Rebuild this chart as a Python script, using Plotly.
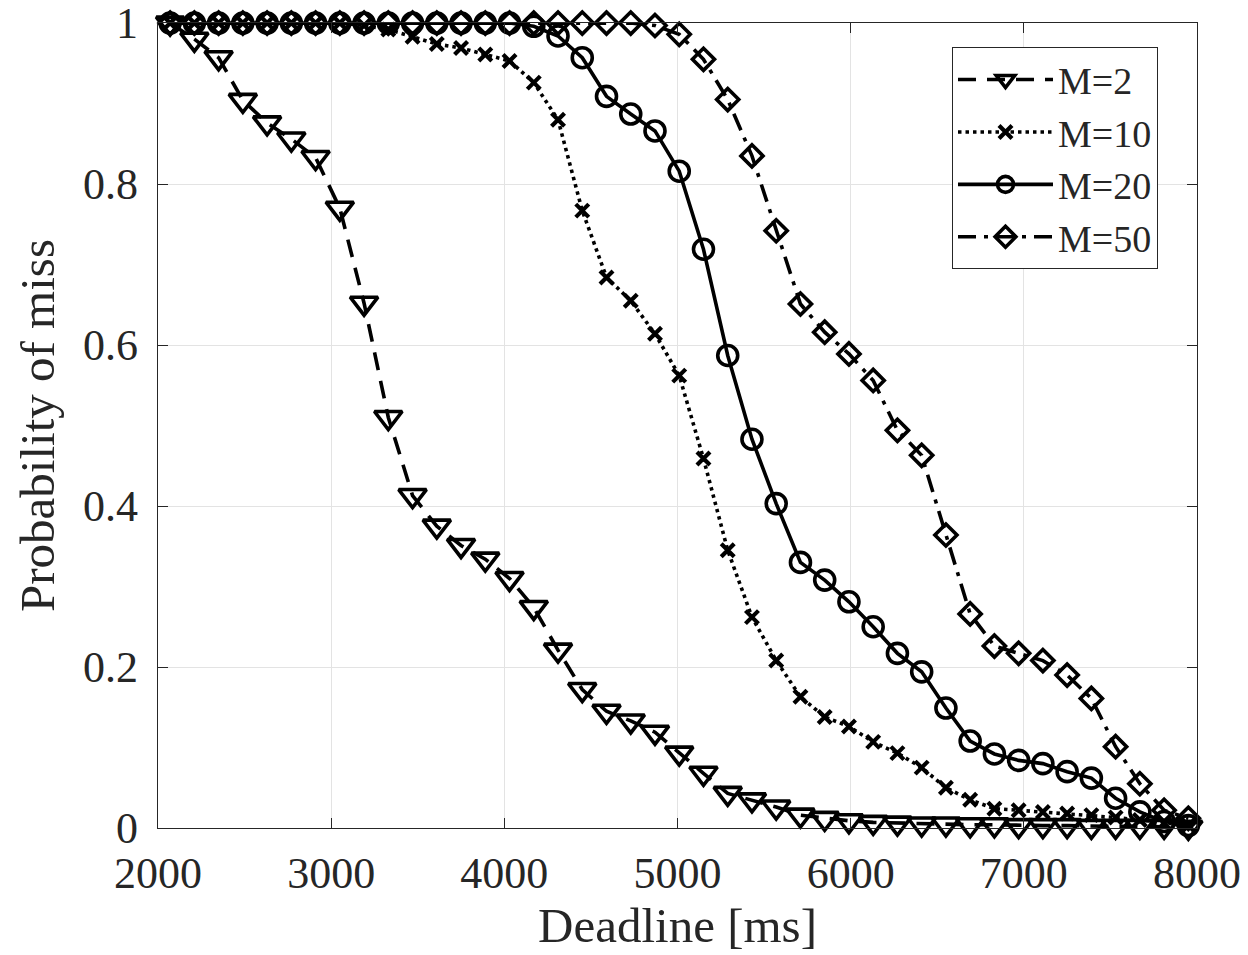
import plotly.graph_objects as go

# Deadline values (ms) at which the miss probability was evaluated
deadlines = [2070, 2210, 2350, 2490, 2630, 2770, 2910, 3050, 3190, 3330,
             3470, 3610, 3750, 3890, 4030, 4170, 4310, 4450, 4590, 4730,
             4870, 5010, 5150, 5290, 5430, 5570, 5710, 5850, 5990, 6130,
             6270, 6410, 6550, 6690, 6830, 6970, 7110, 7250, 7390, 7530,
             7670, 7810, 7950]

p_m2 = [1.0, 0.980, 0.957, 0.904, 0.876, 0.856, 0.833, 0.770, 0.652, 0.510,
        0.413, 0.375, 0.351, 0.334, 0.310, 0.274, 0.221, 0.172, 0.145, 0.133,
        0.119, 0.093, 0.068, 0.043, 0.035, 0.026, 0.016, 0.012, 0.009, 0.007,
        0.006, 0.005, 0.005, 0.004, 0.004, 0.003, 0.003, 0.003, 0.002, 0.002,
        0.002, 0.002, 0.001]

p_m10 = [1.0, 1.0, 1.0, 1.0, 1.0, 1.0, 1.0, 1.0, 0.997, 0.992,
         0.983, 0.974, 0.969, 0.961, 0.953, 0.926, 0.880, 0.767, 0.684, 0.655,
         0.614, 0.562, 0.459, 0.345, 0.262, 0.208, 0.163, 0.138, 0.126, 0.107,
         0.093, 0.075, 0.050, 0.035, 0.024, 0.022, 0.020, 0.018, 0.016, 0.013,
         0.010, 0.006, 0.003]

p_m20 = [1.0, 1.0, 1.0, 1.0, 1.0, 1.0, 1.0, 1.0, 1.0, 1.0,
         1.0, 1.0, 1.0, 1.0, 1.0, 0.996, 0.984, 0.957, 0.909, 0.887,
         0.866, 0.816, 0.719, 0.587, 0.483, 0.403, 0.330, 0.308, 0.281, 0.250,
         0.217, 0.194, 0.149, 0.108, 0.092, 0.084, 0.080, 0.070, 0.062, 0.037,
         0.020, 0.008, 0.003]

p_m50 = [1.0, 1.0, 1.0, 1.0, 1.0, 1.0, 1.0, 1.0, 1.0, 1.0,
         1.0, 1.0, 1.0, 1.0, 1.0, 1.0, 1.0, 1.0, 1.0, 1.0,
         0.997, 0.986, 0.955, 0.905, 0.835, 0.742, 0.651, 0.616, 0.589, 0.556,
         0.494, 0.463, 0.364, 0.266, 0.226, 0.217, 0.208, 0.190, 0.161, 0.101,
         0.055, 0.022, 0.012]

series_names = ["M=2", "M=10", "M=20", "M=50"]
x_ticks = [2000, 3000, 4000, 5000, 6000, 7000, 8000]
y_ticks = [0, 0.2, 0.4, 0.6, 0.8, 1]
y_tick_text = ["0", "0.2", "0.4", "0.6", "0.8", "1"]

FONT = "Liberation Serif, Times New Roman, serif"
TXT = "#262626"
LW = 3.6

styles = [
    dict(dash="18px,11px", symbol="triangle-down-open", size=24, mlw=3.6),
    dict(dash="3.5px,4px", symbol="x-thin-open", size=13, mlw=4.2),
    dict(dash="solid", symbol="circle-open", size=20, mlw=3.6),
    dict(dash="18px,8px,4px,8px", symbol="diamond-open", size=17, mlw=3.6),
]

fig = go.Figure()
for name, ys, st in zip(series_names, [p_m2, p_m10, p_m20, p_m50], styles):
    fig.add_trace(go.Scatter(
        x=deadlines, y=ys, name=name, mode="lines+markers",
        cliponaxis=False,
        line=dict(color="black", width=LW, dash=st["dash"]),
        marker=dict(symbol=st["symbol"], size=st["size"], color="black",
                    line=dict(color="black", width=st["mlw"])),
    ))

axis_common = dict(
    showline=True, linecolor=TXT, linewidth=1.2, mirror="ticks",
    ticks="inside", ticklen=10, tickwidth=1.2, tickcolor=TXT,
    showgrid=True, gridcolor="#e3e3e3", gridwidth=1, zeroline=False,
    tickfont=dict(family=FONT, size=44, color=TXT),
    ticklabeloverflow="allow", automargin=False,
)

fig.update_layout(
    width=1248, height=955,
    margin=dict(l=158, r=51, t=23, b=127, autoexpand=False),
    paper_bgcolor="white", plot_bgcolor="white",
    showlegend=True,
    legend=dict(
        x=0.764, y=0.97, xanchor="left", yanchor="top",
        bgcolor="white", bordercolor=TXT, borderwidth=1.2,
        font=dict(family=FONT, size=38, color=TXT),
        itemwidth=95, tracegroupgap=0,
    ),
    xaxis=dict(
        range=[2000, 8000], tickvals=x_ticks,
        title=dict(text="Deadline [ms]", font=dict(family=FONT, size=49, color=TXT), standoff=4),
        ticklabelstandoff=6,
        **axis_common,
    ),
    yaxis=dict(
        range=[0, 1.0001], tickvals=y_ticks, ticktext=y_tick_text,
        title=dict(text="Probability of miss", font=dict(family=FONT, size=49, color=TXT), standoff=12),
        ticklabelstandoff=10,
        **axis_common,
    ),
)

fig.write_html("out.html")
